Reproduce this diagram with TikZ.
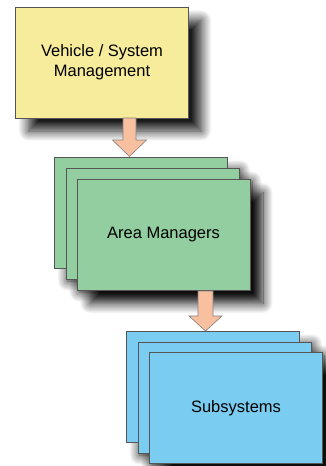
\documentclass[tikz,border=0pt]{standalone}
\usepackage{fontspec}
\setmainfont{Liberation Sans}
\usetikzlibrary{calc,shadows.blur}
\definecolor{boxyellow}{RGB}{247,236,155}
\definecolor{boxgreen}{RGB}{146,206,160}
\definecolor{boxblue}{RGB}{122,205,240}
\definecolor{arrowfill}{RGB}{249,192,160}
\definecolor{edgegray}{RGB}{85,85,85}
\tikzset{
  box/.style={draw=edgegray, line width=0.8pt, rectangle, inner sep=0pt,
    minimum width=173pt, minimum height=111pt, align=center,
    font=\fontsize{16.5}{20}\selectfont,
    blur shadow={shadow xshift=13pt, shadow yshift=-13pt, shadow blur radius=10pt, shadow opacity=90, shadow blur steps=14}},
  ybox/.style={box, fill=boxyellow},
  gbox/.style={box, fill=boxgreen},
  bbox/.style={box, fill=boxblue},
  blockarrow/.style={draw=gray, line width=0.6pt, fill=arrowfill, line join=miter}
}
\begin{document}
\begin{tikzpicture}[x=1pt,y=-1pt]
\useasboundingbox (0,0) rectangle (325,466);
% top box
\node[ybox] (vsm) at (102,62.5) {Vehicle / System\\Management};
% arrow 1
\coordinate (a1s) at (129.5,118);
\coordinate (a1t) at (129.5,156.5);
\draw[blockarrow] ($(a1s)+(-6.5,0)$) -- ($(a1s)+(6.5,0)$) -- ($(a1s)+(6.5,22)$) -- ($(a1s)+(17,22)$) -- (a1t) -- ($(a1s)+(-17,22)$) -- ($(a1s)+(-6.5,22)$) -- cycle;
% green stack
\node[gbox] (am3) at (141,212.5) {};
\node[gbox] (am2) at (152.5,223.5) {};
\node[gbox] (am1) at (163.5,235) {Area Managers};
% arrow 2
\coordinate (a2s) at (205.5,291);
\coordinate (a2t) at (205.5,331);
\draw[blockarrow] ($(a2s)+(-7.5,0)$) -- ($(a2s)+(7.5,0)$) -- ($(a2s)+(7.5,25)$) -- ($(a2s)+(16.5,25)$) -- (a2t) -- ($(a2s)+(-16.5,25)$) -- ($(a2s)+(-7.5,25)$) -- cycle;
% blue stack
\node[bbox] (ss3) at (213,386.5) {};
\node[bbox] (ss2) at (224.5,397.5) {};
\node[bbox] (ss1) at (236,408) {Subsystems};
\end{tikzpicture}
\end{document}
